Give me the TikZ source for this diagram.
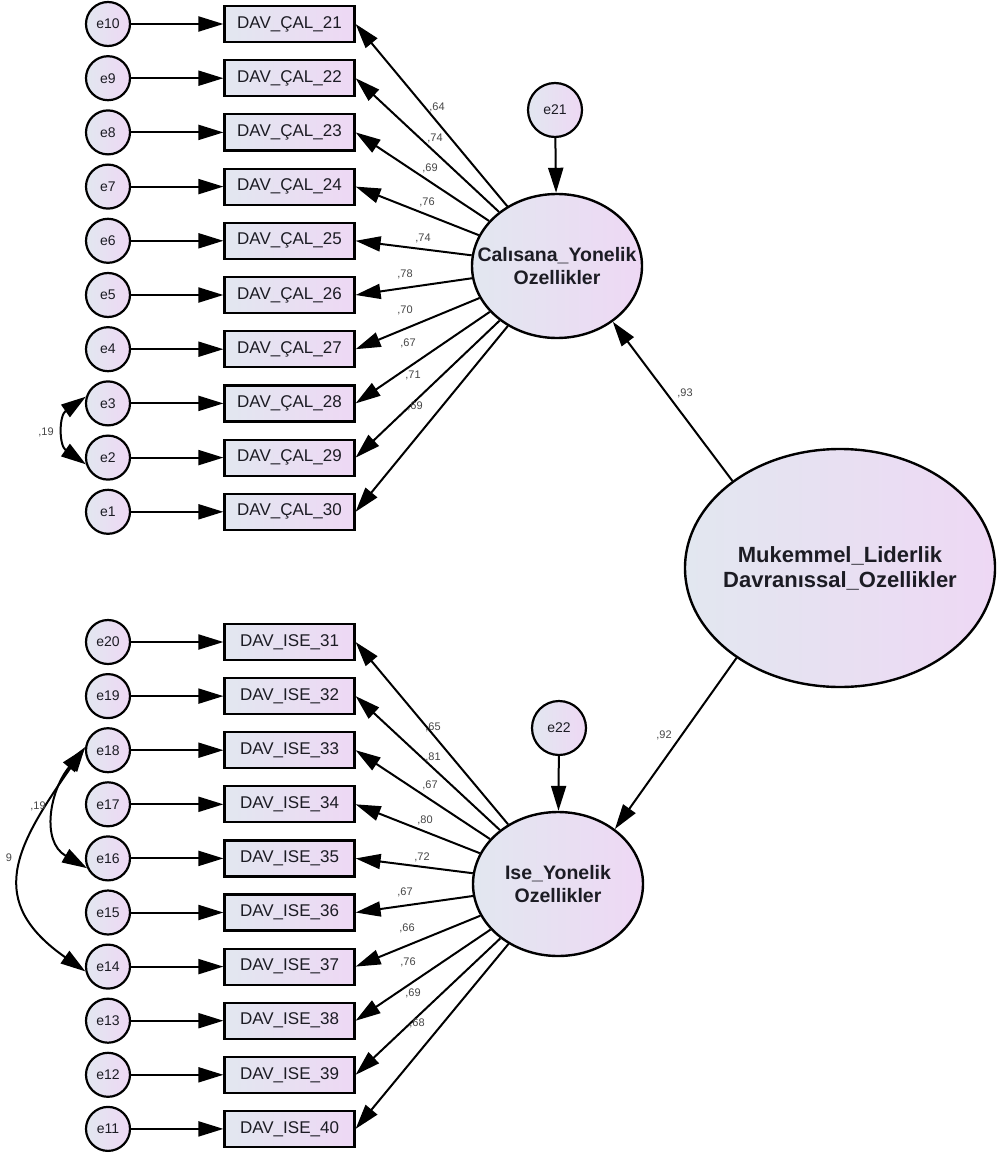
\documentclass[tikz,border=0pt]{standalone}
\usepackage{fontspec}
\setmainfont{Liberation Sans}
\usetikzlibrary{arrows.meta,shapes.geometric}
\definecolor{gl}{RGB}{226,231,240}
\definecolor{gr}{RGB}{238,216,244}
\definecolor{txt}{RGB}{28,28,36}
\definecolor{lbl}{RGB}{70,70,70}
\begin{document}
\begin{tikzpicture}[x=1pt,y=-1pt,
  >={Triangle[length=25pt,width=15pt]},
  line width=2pt,
  obs/.style={draw, line width=2.2pt, rectangle, minimum width=130pt, minimum height=36pt, inner sep=0pt, left color=gl, right color=gr, text=txt, font=\fontsize{17}{20}\selectfont},
  err/.style={draw, line width=2.2pt, circle, minimum size=44pt, inner sep=0pt, left color=gl, right color=gr, text=txt, font=\fontsize{14}{16}\selectfont},
  lat/.style={draw, line width=2.4pt, ellipse, inner sep=0pt, left color=gl, right color=gr},
  lattext/.style={text=txt, align=center, inner sep=0pt},
  arr/.style={->, line width=2pt},
  cov/.style={<->, line width=2pt},
  wt/.style={text=lbl, inner sep=0pt, font=\fontsize{11}{13}\selectfont}
]
\useasboundingbox[fill=white] (0,0) rectangle (1001,1153);

% top block
\foreach \k in {0,...,9}{
  \pgfmathtruncatemacro\num{21+\k}
  \pgfmathtruncatemacro\en{10-\k}
  \pgfmathsetmacro\yy{24+54.2*\k}
  \node[obs] (c\num) at (289.5,\yy) {DAV\_ÇAL\_\num};
  \node[err] (e\en) at (108,\yy) {e\en};
}
% bottom block
\foreach \k in {0,...,9}{
  \pgfmathtruncatemacro\num{31+\k}
  \pgfmathtruncatemacro\en{20-\k}
  \pgfmathsetmacro\yy{642+54.1*\k}
  \node[obs] (s\num) at (289.5,\yy) {DAV\_ISE\_\num};
  \node[err] (e\en) at (108,\yy) {e\en};
}

% latents
\node[lat, minimum width=170pt, minimum height=144pt] (lat1) at (557,266) {};
\node[lattext, font=\bfseries\fontsize{19.5}{23}\selectfont] (lat1t) at (lat1) {Calısana\_Yonelik\\Ozellikler};
\node[lat, minimum width=170pt, minimum height=144pt] (lat2) at (558,884) {};
\node[lattext, font=\bfseries\fontsize{19.5}{23}\selectfont] (lat2t) at (lat2) {Ise\_Yonelik\\Ozellikler};
\node[lat, minimum width=310pt, minimum height=238pt] (big) at (840,568) {};
\node[lattext, font=\bfseries\fontsize{22}{25}\selectfont] (bigt) at (big) {Mukemmel\_Liderlik\\Davranıssal\_Ozellikler};
\node[err, minimum size=54pt] (e21) at (555,110) {e21};
\node[err, minimum size=54pt] (e22) at (559,728) {e22};

% error arrows
\foreach \k in {1,...,10}{
  \pgfmathtruncatemacro\num{31-\k}
  \draw[arr] (e\k) -- (c\num);
}
\foreach \k in {11,...,20}{
  \pgfmathtruncatemacro\num{51-\k}
  \draw[arr] (e\k) -- (s\num);
}
\draw[arr] (e21) -- (lat1);
\draw[arr] (e22) -- (lat2);

% loadings
\foreach \num in {21,...,30}{ \draw[arr] (lat1) -- (c\num.east); }
\foreach \num in {31,...,40}{ \draw[arr] (lat2) -- (s\num.east); }

% structural paths
\draw[arr] (big.141) -- (lat1.-45);
\draw[arr] (big.221) -- (lat2.44.5);

% covariances
\draw[cov] (e3.163) to[out=215,in=145,looseness=1.25] (e2.197);
\draw[cov] (e18.175) to[out=230,in=150,looseness=1.15] (e16.205);
\draw[cov] (e18.172) to[out=235,in=145,looseness=1.4] (e14.192);

% loading labels
\node[wt] (w21) at (437,107) {,64};
\node[wt] (w22) at (435,138) {,74};
\node[wt] (w23) at (430,168) {,69};
\node[wt] (w24) at (427,202) {,76};
\node[wt] (w25) at (423,238) {,74};
\node[wt] (w26) at (405,274) {,78};
\node[wt] (w27) at (405,310) {,70};
\node[wt] (w28) at (408,343) {,67};
\node[wt] (w29) at (413,375) {,71};
\node[wt] (w30) at (415,406) {,69};
\node[wt] (w31) at (433,727) {,65};
\node[wt] (w32) at (433,757) {,81};
\node[wt] (w33) at (430,785) {,67};
\node[wt] (w34) at (425,820) {,80};
\node[wt] (w35) at (422,857) {,72};
\node[wt] (w36) at (405,892) {,67};
\node[wt] (w37) at (407,928) {,66};
\node[wt] (w38) at (408,962) {,76};
\node[wt] (w39) at (413,993) {,69};
\node[wt] (w40) at (417,1023) {,68};
\node[wt] (wb1) at (685,393) {,93};
\node[wt] (wb2) at (664,735) {,92};
\node[wt] (wc1) at (46,432) {,19};
\node[wt] (wc2) at (38,806) {,19};
\node[wt] (wc3) at (9,858) {9};
\end{tikzpicture}
\end{document}
